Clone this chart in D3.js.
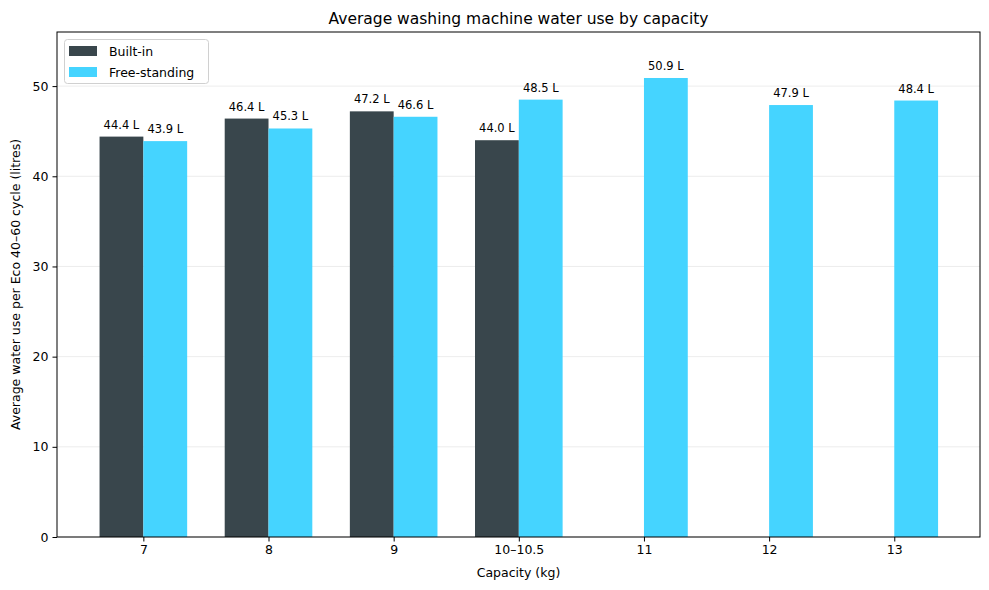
<!DOCTYPE html>
<html><head><meta charset="utf-8">
<script src="https://cdn.jsdelivr.net/npm/d3@7"></script>
<style>body{margin:0;background:#fff}text{font-family:"DejaVu Sans",sans-serif}</style>
</head><body><svg id="c" width="989" height="590"></svg>
<script>
const categories = ["7","8","9","10–10.5","11","12","13"];
const builtIn = [44.4, 46.4, 47.2, 44.0, null, null, null];
const freeStanding = [43.9, 45.3, 46.6, 48.5, 50.9, 47.9, 48.4];
const yTicks = [0,10,20,30,40,50];
const seriesNames = ["Built-in","Free-standing"];
const colors = ["#39464c","#45d4ff"];

const svg = d3.select("#c");
const L=57,R=980,T=32,B=537;
const x = d3.scaleLinear().domain([-0.69,6.685]).range([L,R]);
const y = d3.scaleLinear().domain([0,56]).range([B,T]);
const bw = 0.35;

// grid
svg.append("g").selectAll("line").data(yTicks).join("line")
 .attr("x1",L).attr("x2",R).attr("y1",d=>y(d)).attr("y2",d=>y(d))
 .attr("stroke","#b0b0b0").attr("stroke-opacity",0.3).attr("stroke-width",0.8);

const series=[builtIn,freeStanding];
series.forEach((vals,si)=>{
  const off = si===0 ? -bw : 0;
  const data = vals.map((v,i)=>({v,i})).filter(d=>d.v!=null);
  svg.append("g").selectAll("rect").data(data).join("rect")
   .attr("x",d=>x(d.i+off)).attr("width",d=>x(d.i+off+bw)-x(d.i+off))
   .attr("y",d=>y(d.v)).attr("height",d=>y(0)-y(d.v)).attr("fill",colors[si]);
  svg.append("g").selectAll("text").data(data).join("text")
   .attr("x",d=>x(d.i+off+bw/2)).attr("y",d=>y(d.v)-8)
   .attr("text-anchor","middle").attr("font-size","11.5px").attr("fill","#000")
   .text(d=>d.v.toFixed(1)+" L");
});

// axes frame
svg.append("rect").attr("x",L).attr("y",T).attr("width",R-L).attr("height",B-T)
 .attr("fill","none").attr("stroke","#000").attr("stroke-width",1);

const xa = d3.axisBottom(x).tickValues(d3.range(categories.length)).tickFormat(i=>categories[i]).tickSize(4.5).tickPadding(4);
const gx = svg.append("g").attr("transform",`translate(0,${B})`).call(xa);
gx.select(".domain").remove();
gx.selectAll("text").attr("font-size","12.5px").attr("fill","#000").attr("font-family","DejaVu Sans");
const ya = d3.axisLeft(y).tickValues(yTicks).tickSize(4.5).tickPadding(4);
const gy = svg.append("g").attr("transform",`translate(${L},0)`).call(ya);
gy.select(".domain").remove();
gy.selectAll("text").attr("font-size","12.5px").attr("fill","#000").attr("font-family","DejaVu Sans");

svg.append("text").attr("x",(L+R)/2).attr("y",24).attr("text-anchor","middle")
 .attr("font-size","15.5px").text("Average washing machine water use by capacity");
svg.append("text").attr("x",(L+R)/2).attr("y",577).attr("text-anchor","middle")
 .attr("font-size","12.5px").text("Capacity (kg)");
svg.append("text").attr("transform",`translate(20,${(T+B)/2}) rotate(-90)`).attr("text-anchor","middle")
 .attr("font-size","12.5px").text("Average water use per Eco 40–60 cycle (litres)");

// legend
const lg = svg.append("g");
lg.append("rect").attr("x",64.5).attr("y",39.5).attr("width",144).attr("height",44).attr("rx",3)
 .attr("fill","#fff").attr("fill-opacity",0.8).attr("stroke","#d0d0d0");
seriesNames.forEach((n,i)=>{
  lg.append("rect").attr("x",69).attr("y",46+i*21).attr("width",28).attr("height",10).attr("fill",colors[i]);
  lg.append("text").attr("x",109).attr("y",56+i*21).attr("font-size","12.5px").text(n);
});
</script></body></html>
